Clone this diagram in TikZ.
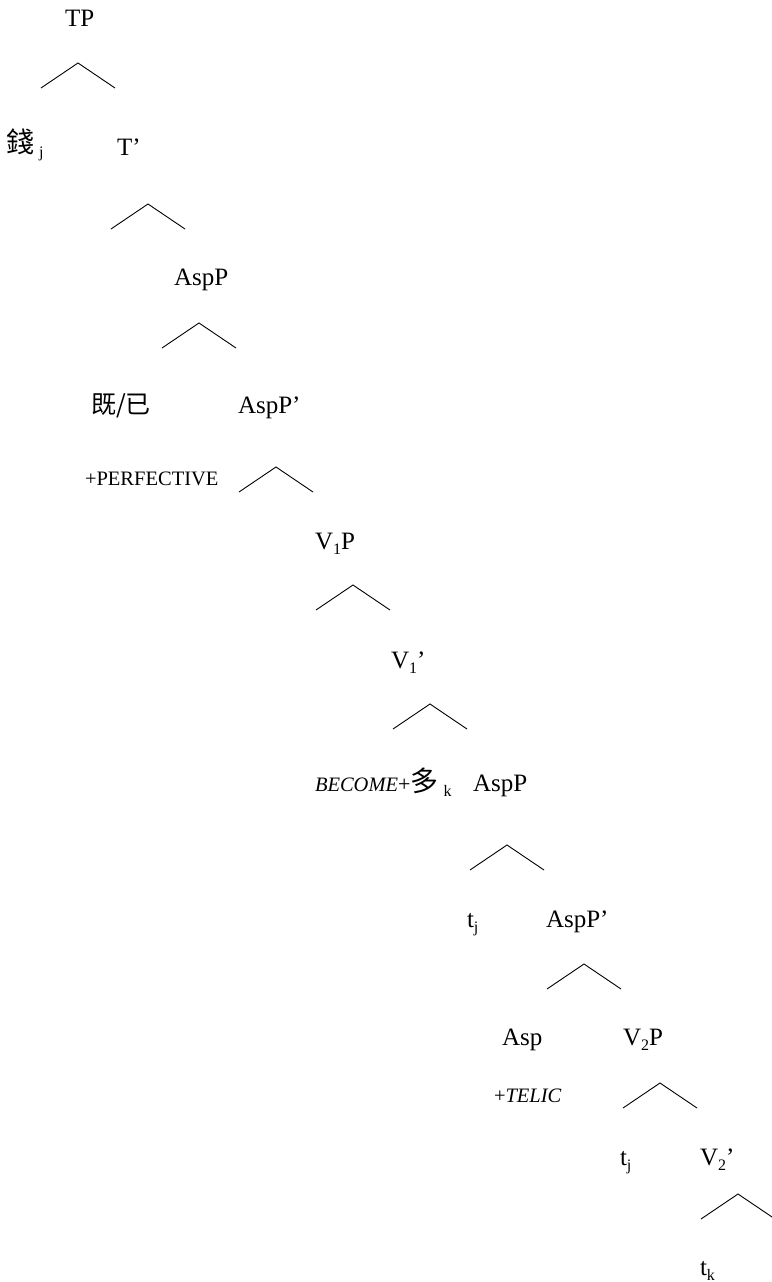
\documentclass[tikz,border=0pt]{standalone}
\usepackage{fontspec}
\setmainfont{Liberation Serif}
\newfontfamily\cjk{Noto Sans CJK TC}
% lowered small index used for traces and bar levels
\newcommand\lsub[1]{\raisebox{-0.2em}{\fontsize{16}{16}\selectfont #1}}
\newcommand\bigcjk[1]{{\fontsize{28}{30}\selectfont\cjk #1}}
\tikzset{
  lbl/.style={inner sep=0pt, outer sep=0pt, anchor=base west, font=\fontsize{25}{30}\selectfont},
  feat/.style={lbl, font=\fontsize{20.5}{24}\selectfont},
  hat/.pic={\draw[line width=0.9pt, line join=miter] (-37,25) -- (0,0) -- (37,25);}
}
\begin{document}
\begin{tikzpicture}[x=1pt,y=-1pt]
\useasboundingbox (0,0) rectangle (771,1282);

% labels of the tree
\node[lbl] (tp)     at (65,27)   {TP};
\node[lbl] (qian)   at (6,152)   {\bigcjk{錢}\hspace{5pt}\lsub{j}};
\node[lbl] (tbar)   at (117,155) {T’};
\node[lbl] (asp1)   at (174,285) {AspP};
\node[lbl] (jiyi)   at (91,413)  {\cjk 既/已};
\node[lbl] (aspb1)  at (238,413) {AspP’};
\node[feat] (perf)  at (85,485)  {+PERFECTIVE};
\node[lbl] (v1p)    at (315,549) {V\lsub{1}P};
\node[lbl] (v1bar)  at (391,668) {V\lsub{1}’};
\node[lbl] (become) at (315,791) {{\fontsize{20.5}{24}\selectfont\itshape BECOME}{\fontsize{22}{24}\selectfont +}\bigcjk{多}\hspace{5pt}\lsub{k}};
\node[lbl] (asp2)   at (473,791) {AspP};
\node[lbl] (tj1)    at (467,927) {t\lsub{j}};
\node[lbl] (aspb2)  at (546,927) {AspP’};
\node[lbl] (asp)    at (502,1045) {Asp};
\node[feat] (telic) at (494,1102) {+{\itshape TELIC}};
\node[lbl] (v2p)    at (623,1045) {V\lsub{2}P};
\node[lbl] (tj2)    at (620,1165) {t\lsub{j}};
\node[lbl] (v2bar)  at (700,1165) {V\lsub{2}’};
\node[lbl] (tk)     at (700,1275) {t\lsub{k}};

% branching hats below each phrase
\pic at (78,63)   {hat};
\pic at (148,204) {hat};
\pic at (199,323) {hat};
\pic at (276,467) {hat};
\pic at (353,585) {hat};
\pic at (430,704) {hat};
\pic at (507,845) {hat};
\pic at (584,964) {hat};
\pic at (660,1083) {hat};
\pic at (738,1194) {hat};
\end{tikzpicture}
\end{document}
